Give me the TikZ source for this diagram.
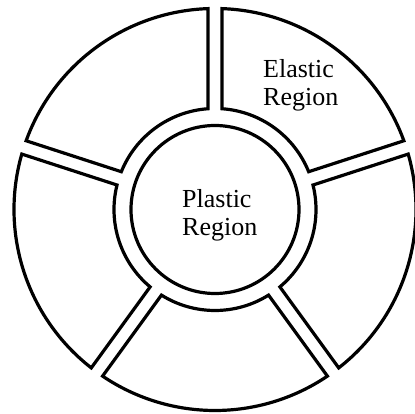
\documentclass[tikz,border=0pt]{standalone}
\usepackage{fontspec}
\setmainfont{Liberation Serif}
\begin{document}
\begin{tikzpicture}[x=1pt,y=1pt,
  outline/.style={draw=black,line width=3.2pt,line join=miter},
  label/.style={font=\fontsize{26}{28}\selectfont,align=left,inner sep=0pt,anchor=west}]
\useasboundingbox (-215,-204.5) rectangle (200,209.5);
\fill[white] (-215,-204.5) rectangle (200,209.5);
\pgfmathsetmacro{\ri}{101}
\pgfmathsetmacro{\Ro}{201}
\pgfmathsetmacro{\di}{asin(7/101)}
\pgfmathsetmacro{\do}{asin(7/201)}
\foreach \a in {18,90,162,234,306}{
  \pgfmathsetmacro{\sa}{\a+\do}
  \pgfmathsetmacro{\ea}{\a+72-\do}
  \pgfmathsetmacro{\si}{\a+72-\di}
  \pgfmathsetmacro{\ei}{\a+\di}
  \draw[outline] (\ei:\ri) -- (\sa:\Ro)
    arc[start angle=\sa,end angle=\ea,radius=\Ro]
    -- (\si:\ri)
    arc[start angle=\si,end angle=\ei,radius=\ri] -- cycle;
}
\draw[outline] (0,0) circle[radius=84];
\node[label] (plastic) at (-33,-5.8) {Plastic\\Region};
\node[label] (elastic) at (48,124.3) {Elastic\\Region};
\end{tikzpicture}
\end{document}
